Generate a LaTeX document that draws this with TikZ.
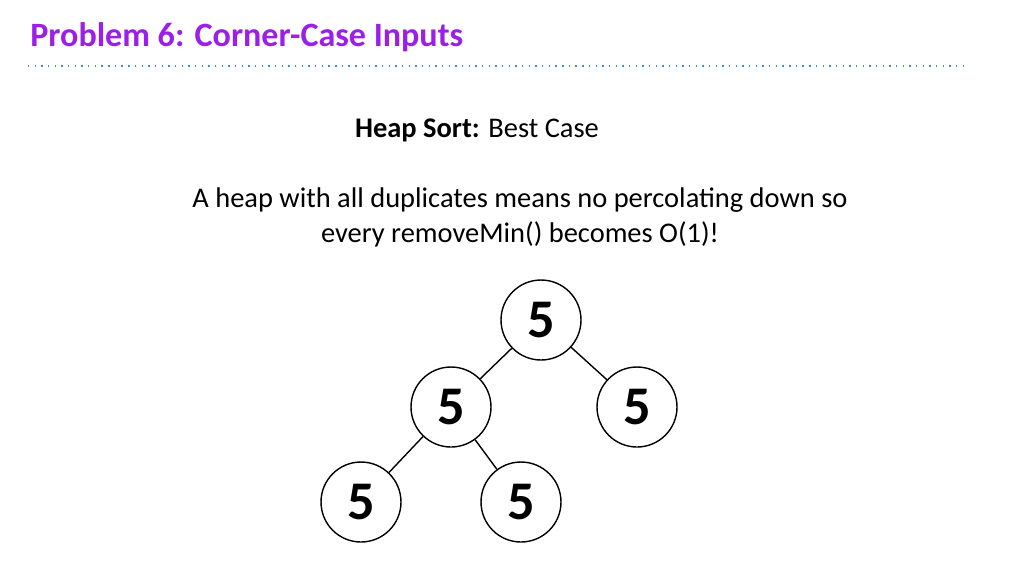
\documentclass[tikz,border=0pt]{standalone}
\usepackage{fontspec}
\setmainfont{Carlito}
\usepackage{xcolor}
\usetikzlibrary{positioning}
\definecolor{titlepurple}{HTML}{9B1FE8}
\definecolor{ruleblue}{HTML}{3A8FD0}

\begin{document}
\begin{tikzpicture}[
  x=0.02cm, y=-0.02cm,
  heapnode/.style={circle, draw, thick, minimum size=1.6cm, inner sep=0pt,
    font=\fontsize{31}{31}\selectfont\bfseries},
  edge/.style={thick},
  body/.style={font=\fontsize{16.2}{20}\selectfont, align=center}
]
  \useasboundingbox (0,0) rectangle (1024,576);

  % heading
  \node[anchor=west, inner sep=0pt, text=titlepurple, font=\fontsize{19.4}{19.4}\selectfont\bfseries]
    (title) at (30,37) {Problem 6: Corner-Case Inputs};
  \draw[ruleblue, line width=1pt, dash pattern=on 0.8pt off 3pt] (28,66) -- (968,66);

  \node[body] (case) at (477,130) {\textbf{Heap Sort:} Best Case};
  \node[body] (note) at (520,217)
    {A heap with all duplicates means no percolating down so\\every removeMin() becomes O(1)!};

  % heap
  \node[heapnode] (root) at (541,320) {5};
  \node[heapnode] (l)    at (451,407) {5};
  \node[heapnode] (r)    at (637,407) {5};
  \node[heapnode] (ll)   at (361,502) {5};
  \node[heapnode] (lr)   at (521,502) {5};

  \draw[edge] (root) -- (l);
  \draw[edge] (root) -- (r);
  \draw[edge] (l) -- (ll);
  \draw[edge] (l) -- (lr);
\end{tikzpicture}
\end{document}
